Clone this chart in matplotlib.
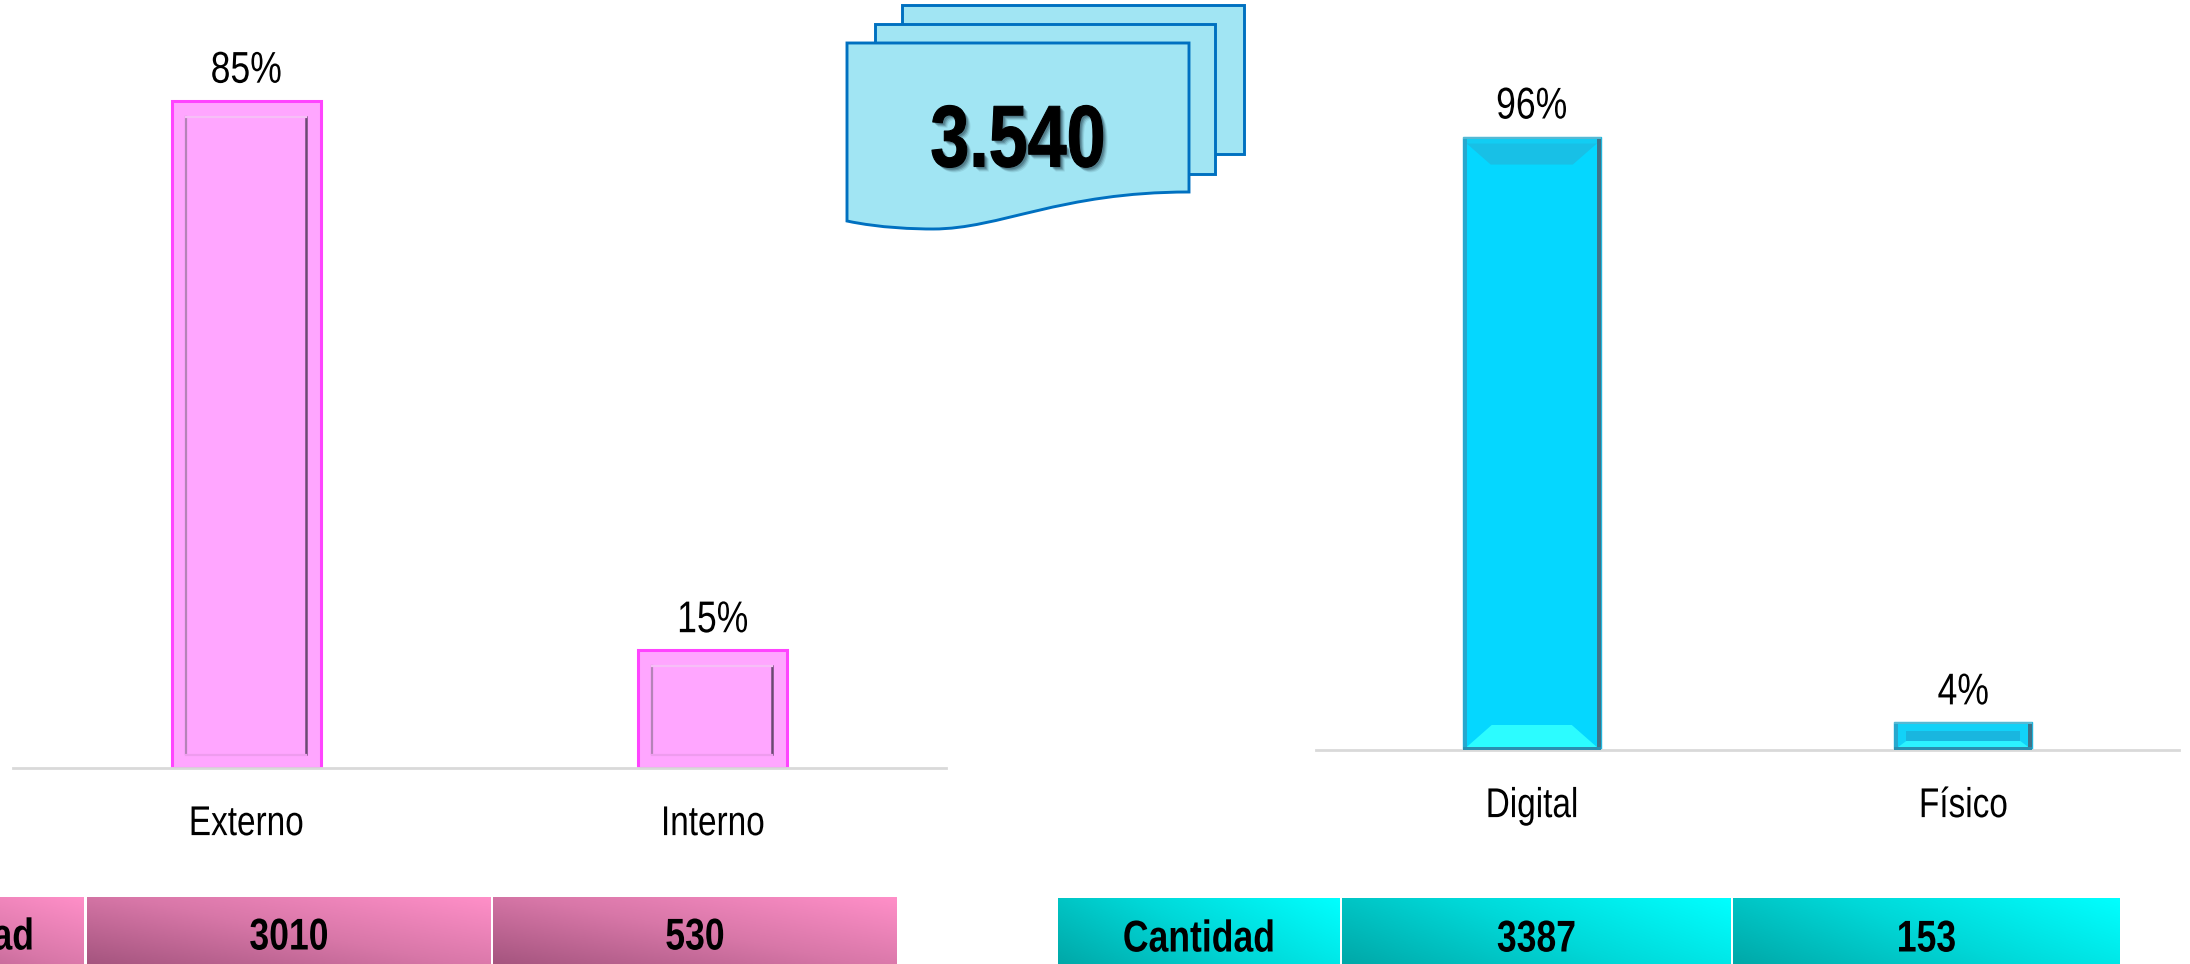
# -*- coding: utf-8 -*-
import numpy as np
import matplotlib

matplotlib.use("Agg")
import matplotlib.pyplot as plt
import matplotlib.patheffects as pe
from matplotlib.colors import LinearSegmentedColormap
from matplotlib.patches import PathPatch, Polygon, Rectangle
from matplotlib.path import Path
from matplotlib.transforms import Affine2D

plt.rcParams["font.family"] = ["Liberation Sans", "DejaVu Sans"]

W, H = 2190, 964
NARROW = 0.8

origen_cats = ["Externo", "Interno"]
origen_pct = [85.0, 15.0]
origen_labels = ["85%", "15%"]
origen_cant = ["3010", "530"]

formato_cats = ["Digital", "Físico"]
formato_pct = [95.7, 4.3]
formato_labels = ["96%", "4%"]
formato_cant = ["3387", "153"]

fila_titulo = "Cantidad"
total = "3.540"

fig = plt.figure(figsize=(W / 100, H / 100), dpi=100, facecolor="white")


class Squeeze(pe.AbstractPathEffect):
    """Angosta el texto en horizontal alrededor de su ancla (la referencia usa letra estrecha)."""

    def __init__(self, text, k=NARROW, shadow=False, stroke=0.0):
        super().__init__()
        self.text, self.k, self.shadow, self.stroke = text, k, shadow, stroke

    def draw_path(self, renderer, gc, tpath, affine, rgbFace=None):
        cx = self.text.get_transform().transform(self.text.get_position())[0]
        aff = affine + Affine2D().translate(-cx, 0).scale(self.k, 1).translate(cx, 0)
        if self.shadow:
            for off, a in [(5, 0.12), (4, 0.2), (3, 0.3), (2, 0.4)]:
                gc0 = renderer.new_gc()
                gc0.copy_properties(gc)
                gc0.set_foreground("none")
                gc0.set_alpha(a)
                renderer.draw_path(gc0, tpath, aff + Affine2D().translate(off, -off), (0.2, 0.33, 0.38))
                gc0.restore()
        gc1 = renderer.new_gc()
        gc1.copy_properties(gc)
        if self.stroke:
            gc1.set_foreground("black")
            gc1.set_linewidth(self.stroke)
        renderer.draw_path(gc1, tpath, aff, rgbFace)
        gc1.restore()


def narrow(text, **kw):
    text.set_path_effects([Squeeze(text, **kw)])
    return text


def px_axes(x0, x1, y0, y1, **kw):
    """Ejes colocados en pixeles de la imagen (y hacia abajo)."""
    return fig.add_axes([x0 / W, 1 - y1 / H, (x1 - x0) / W, (y1 - y0) / H], **kw)


def bar_chart(x0, x1, baseline, per_unit, cats, vals, labels, color, edge, lw):
    ax = px_axes(x0, x1, 0, baseline)
    bars = ax.bar(range(len(cats)), vals, width=0.32, color=color, edgecolor=edge, linewidth=lw)
    ax.set_xlim(-0.5, 1.5)
    ax.set_ylim(0, baseline / per_unit)
    ax.set_xticks(range(len(cats)), cats)
    ax.tick_params(axis="x", length=0, labelsize=30, pad=26)
    for lab in ax.get_xticklabels():
        narrow(lab)
    ax.set_yticks([])
    ax.patch.set_visible(False)
    for s in ("top", "left", "right"):
        ax.spines[s].set_visible(False)
    ax.spines["bottom"].set_color("#D9D9D9")
    ax.spines["bottom"].set_linewidth(2)
    for i, (v, lab) in enumerate(zip(vals, labels)):
        narrow(ax.annotate(lab, (i, v), xytext=(0, 13), textcoords="offset points",
                           ha="center", va="baseline", fontsize=32, color="black"))
    return bars


def px_box(bar):
    b = bar.get_window_extent(fig.canvas.get_renderer())
    return b.x0, b.x1, b.y0, b.y1


def poly(points, color, alpha=1.0):
    fig.add_artist(Polygon(points, closed=True, facecolor=color, edgecolor="none",
                           alpha=alpha, transform=None, zorder=5))


def line(xs, ys, color, lw):
    fig.add_artist(plt.Line2D(xs, ys, color=color, linewidth=lw, transform=None, zorder=6))


def bevel_rosa(bar):
    x0, x1, y0, y1 = px_box(bar)
    line([x0 + 14, x0 + 14], [y0 + 14, y1 - 16], "#B583B8", 1.6)
    line([x1 - 15, x1 - 15], [y0 + 14, y1 - 16], "#6B4A72", 1.8)
    line([x0 + 14, x1 - 15], [y1 - 16, y1 - 16], "#F6BFF6", 1.6)
    line([x0 + 14, x1 - 15], [y0 + 13, y0 + 13], "#EE9CEE", 1.6)


def bevel_azul(bar):
    x0, x1, y0, y1 = px_box(bar)
    s = 4
    if y1 - y0 > 60:
        poly([(x0, y1), (x1, y1), (x1, y1 - 7), (x0, y1 - 7)], "#12CDF3")
        poly([(x0 + s, y1 - 7), (x1 - s, y1 - 7), (x1 - s - 24, y1 - 28), (x0 + s + 24, y1 - 28)], "#18C0E6")
        poly([(x0 + s, y0 + 3), (x1 - s, y0 + 3), (x1 - s - 25, y0 + 25), (x0 + s + 25, y0 + 25)], "#2CFCFF")
    else:
        # barra baja: banda clara, centro oscuro y biselado inferior
        poly([(x0, y0), (x1, y0), (x1, y1), (x0, y1)], "#12D2F8")
        poly([(x0 + s + 8, y1 - 9), (x1 - s - 8, y1 - 9), (x1 - s - 8, y0 + 9), (x0 + s + 8, y0 + 9)], "#19B6DF")
        poly([(x0 + s, y0 + 3), (x1 - s, y0 + 3), (x1 - s - 8, y0 + 9), (x0 + s + 8, y0 + 9)], "#2CF2FF")
    poly([(x0, y0), (x0 + s, y0), (x0 + s, y1), (x0, y1)], "#27A8CE")
    poly([(x1 - s, y0), (x1, y0), (x1, y1), (x1 - s, y1)], "#3F7389")
    poly([(x0, y0), (x1, y0), (x1, y0 + 3), (x0, y0 + 3)], "#2A8FB0")
    poly([(x0, y1 - 2), (x1, y1 - 2), (x1, y1), (x0, y1)], "#55B9D4")


bars_izq = bar_chart(13, 946, 768, 7.85, origen_cats, origen_pct, origen_labels, "#FFA6FF", "#FF44FF", 2.2)
bars_der = bar_chart(1316, 2179, 750, 6.41, formato_cats, formato_pct, formato_labels, "#05D7FF", "#20B5DC", 1.0)
fig.canvas.draw()
for b in bars_izq:
    bevel_rosa(b)
for b in bars_der:
    bevel_azul(b)

# capa en pixeles: hojas del total y tablas
over = fig.add_axes([0, 0, 1, 1], zorder=3)
over.set_xlim(0, W)
over.set_ylim(H, 0)
over.axis("off")
over.patch.set_visible(False)

SHEET_FILL = "#A1E5F3"
SHEET_EDGE = "#0070C0"
for (l, r, t, b) in [(902, 1244, 5, 154), (875, 1215, 24, 174)]:
    over.add_patch(Rectangle((l, t), r - l, b - t, facecolor=SHEET_FILL, edgecolor=SHEET_EDGE, linewidth=2.1))

verts = [(847, 43), (1189, 43), (1189, 192), (1060, 192), (1000, 229), (933, 229),
         (915, 229), (880, 228), (847, 221), (847, 43)]
codes = [Path.MOVETO, Path.LINETO, Path.LINETO, Path.CURVE4, Path.CURVE4, Path.CURVE4,
         Path.CURVE4, Path.CURVE4, Path.CURVE4, Path.CLOSEPOLY]
over.add_patch(PathPatch(Path(verts, codes), facecolor=SHEET_FILL, edgecolor=SHEET_EDGE, linewidth=2.1))
narrow(over.text(1018, 144, total, ha="center", va="center", fontsize=63, fontweight="bold", color="black"),
       shadow=True, stroke=0.8)

cmap_rosa = LinearSegmentedColormap.from_list("rosa", ["#A5557F", "#D877A8", "#FF8FC8"])
cmap_cian = LinearSegmentedColormap.from_list("cian", ["#00A8A8", "#00D8D8", "#00FFFF"])

u, v = np.meshgrid(np.linspace(0, 1, 200), np.linspace(0, 1, 60))


def table(edges, top, bottom, cmap, textos, text_y, peso_x):
    grad = peso_x * u + (1 - peso_x) * v
    for (l, r), txt in zip(edges, textos):
        over.imshow(grad, extent=(l, r, bottom, top), cmap=cmap, vmin=0, vmax=1,
                    aspect="auto", origin="lower", zorder=1)
        narrow(over.text((l + r) / 2, text_y, txt, ha="center", va="center", fontsize=32,
                         fontweight="bold", color="black", zorder=2))
    over.set_xlim(0, W)
    over.set_ylim(H, 0)


table([(-168, 84), (87, 491), (493, 897)], 897, 964, cmap_rosa,
      [fila_titulo] + origen_cant, 938, 0.55)
table([(1058, 1340), (1342, 1731), (1733, 2120)], 898, 964, cmap_cian,
      [fila_titulo] + formato_cant, 940, 0.7)

fig.savefig("out.png", dpi=100)
